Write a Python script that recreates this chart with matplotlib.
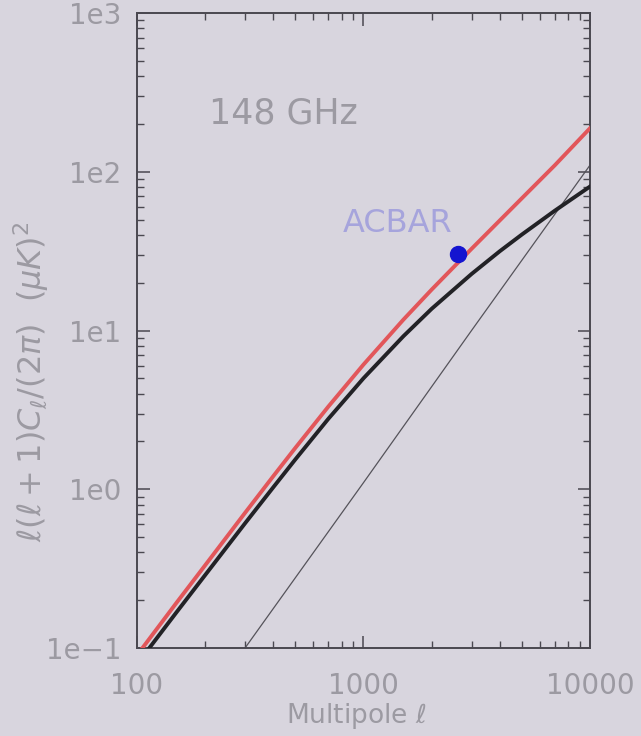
import numpy as np
import matplotlib
matplotlib.use("Agg")
import matplotlib.pyplot as plt
from matplotlib.ticker import FixedLocator, NullFormatter, LogLocator

# Multipoles at which the spectra are tabulated
ell = [100, 150, 200, 300, 400, 500, 700, 1000, 1500, 2000, 3000, 4000, 5000, 7000, 10000]

# Clustered / SZ-like component (thick black)
black_cl = [0.079, 0.169, 0.288, 0.61, 1.03, 1.54, 2.78, 5.0, 9.2, 13.7, 22.7, 31.6, 40.2, 56.9, 80.7]

# Total power (red)
red_cl = [0.09, 0.194, 0.332, 0.71, 1.21, 1.82, 3.32, 6.1, 11.7, 18.1, 32.7, 49.4, 68.0, 110.0, 188.0]

# Poisson point-source term (thin line)
ell_pois = [300, 1000, 3000, 10000]
pois_cl = [0.1, 1.1, 10.0, 110.0]

# ACBAR band power
acbar_ell = [2620]
acbar_cl = [30.5]

ytick_vals = [0.1, 1, 10, 100, 1000]
ytick_text = ["1e\u22121", "1e0", "1e1", "1e2", "1e3"]
xtick_vals = [100, 1000, 10000]
xtick_text = ["100", "1000", "10000"]

bg = "#d8d5de"
txt = "#9c9aa2"
axc = "#4a4850"

fig = plt.figure(figsize=(6.41, 7.36), dpi=100, facecolor=bg)
ax = fig.add_axes([0.2137, 0.1196, 0.9204 - 0.2137, 0.9823 - 0.1196], facecolor=bg)
ax.set_xscale("log")
ax.set_yscale("log")
ax.set_xlim(100, 10000)
ax.set_ylim(0.1, 1000)

ax.plot(ell_pois, pois_cl, color="#55535a", lw=0.9, zorder=2)
ax.plot(ell, black_cl, color="#222226", lw=2.8, zorder=3)
ax.plot(ell, red_cl, color="#e2565a", lw=2.8, zorder=4)
ax.plot(acbar_ell, acbar_cl, "o", color="#1414d0", ms=11.5, mec="#1414d0", zorder=5, clip_on=False)

ax.text(2484, 47, "ACBAR", color="#a6a4dc", fontsize=23, ha="right", va="center")
ax.text(441, 232, "148 GHz", color=txt, fontsize=25, ha="center", va="center")

for s in ax.spines.values():
    s.set_color(axc)
    s.set_linewidth(1.4)

ax.xaxis.set_major_locator(FixedLocator(xtick_vals))
ax.set_xticklabels(xtick_text)
ax.xaxis.set_minor_locator(LogLocator(base=10, subs=np.arange(2, 10)))
ax.xaxis.set_minor_formatter(NullFormatter())
ax.yaxis.set_major_locator(FixedLocator(ytick_vals))
ax.set_yticklabels(ytick_text)
ax.yaxis.set_minor_locator(LogLocator(base=10, subs=np.arange(2, 10)))
ax.yaxis.set_minor_formatter(NullFormatter())

ax.tick_params(which="both", direction="in", top=True, right=True, color=axc, labelcolor=txt)
ax.tick_params(which="major", length=9, width=1.1, labelsize=20)
ax.tick_params(which="minor", length=5, width=1.0)
ax.tick_params(axis="x", which="major", pad=17)
ax.tick_params(axis="y", which="major", pad=11)

ax.set_xlabel(r"Multipole $\ell$", color=txt, fontsize=19)
ax.xaxis.set_label_coords(0.485, -0.083)
ax.set_ylabel(r"$\ell(\ell+1)C_\ell/(2\pi)\ \ (\mu K)^2$", color=txt, fontsize=23)
ax.yaxis.set_label_coords(-0.19, 0.42)

fig.savefig("out.png", dpi=100, facecolor=bg)
